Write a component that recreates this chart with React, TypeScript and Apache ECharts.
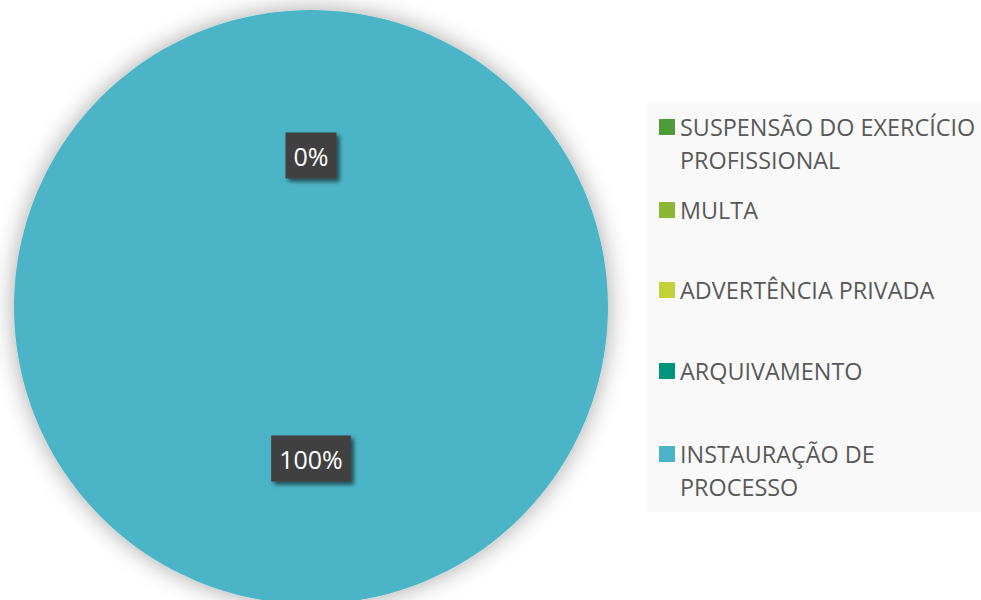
import React, { useEffect, useRef } from "react";
import * as echarts from "echarts";

const categories = [
  "SUSPENSÃO DO EXERCÍCIO PROFISSIONAL",
  "MULTA",
  "ADVERTÊNCIA PRIVADA",
  "ARQUIVAMENTO",
  "INSTAURAÇÃO DE PROCESSO",
];
const legendLabels = [
  "SUSPENSÃO DO EXERCÍCIO\nPROFISSIONAL",
  "MULTA",
  "ADVERTÊNCIA PRIVADA",
  "ARQUIVAMENTO",
  "INSTAURAÇÃO DE\nPROCESSO",
];
const values = [0, 0, 0, 0, 100];
const colors = ["#4E9B3A", "#8CB735", "#C4D23A", "#00957A", "#4BB4C6"];

const legendCenters = [127, 210, 290, 371, 454];
const FONT = "'Open Sans', 'Noto Sans', sans-serif";

export default function App() {
  const ref = useRef<HTMLDivElement>(null);
  useEffect(() => {
    if (!ref.current) return;
    const chart = echarts.init(ref.current, undefined, { renderer: "svg" });
    const legends = categories.map((name, i) => {
      const label = legendLabels[i];
      const multi = label.includes("\n");
      return {
        data: [name],
        orient: "vertical",
        left: 659,
        top: multi ? legendCenters[i] - 49.5 : legendCenters[i] - 16.5,
        padding: 0,
        itemGap: 0,
        itemWidth: 16,
        itemHeight: 16,
        icon: "rect",
        selectedMode: false,
        formatter: () => (multi ? " \n" + label : label),
        textStyle: {
          fontFamily: FONT,
          fontSize: 23.4,
          color: "#595959",
          lineHeight: 33,
        },
      };
    });
    chart.setOption({
      animation: false,
      backgroundColor: "#ffffff",
      color: colors,
      graphic: [
        {
          type: "rect",
          z: -10,
          shape: { x: 646, y: 103, width: 340, height: 409 },
          style: { fill: "#F9F9F9" },
          silent: true,
        },
      ],
      legend: legends,
      series: [
        {
          type: "pie",
          center: [311, 307],
          radius: [0, 297],
          startAngle: 90,
          clockwise: true,
          avoidLabelOverlap: false,
          percentPrecision: 0,
          data: categories.map((name, i) => ({ name, value: values[i] })),
          itemStyle: {
            borderWidth: 0,
            shadowBlur: 24,
            shadowColor: "rgba(0,0,0,0.35)",
          },
          emphasis: { disabled: true },
          labelLine: { show: false },
          label: {
            show: true,
            position: "inside",
            formatter: "{d}%",
            fontFamily: FONT,
            fontSize: 25,
            color: "#ffffff",
            backgroundColor: "#3F3F3F",
            padding: [8, 8, 8, 8],
            lineHeight: 30,
            shadowColor: "rgba(0,0,0,0.6)",
            shadowBlur: 4,
            shadowOffsetX: 3,
            shadowOffsetY: 3,
          },
        },
      ],
    });
    return () => chart.dispose();
  }, []);
  return (
    <div
      ref={ref}
      style={{ position: "fixed", left: 0, top: 0, width: 981, height: 600 }}
    />
  );
}
